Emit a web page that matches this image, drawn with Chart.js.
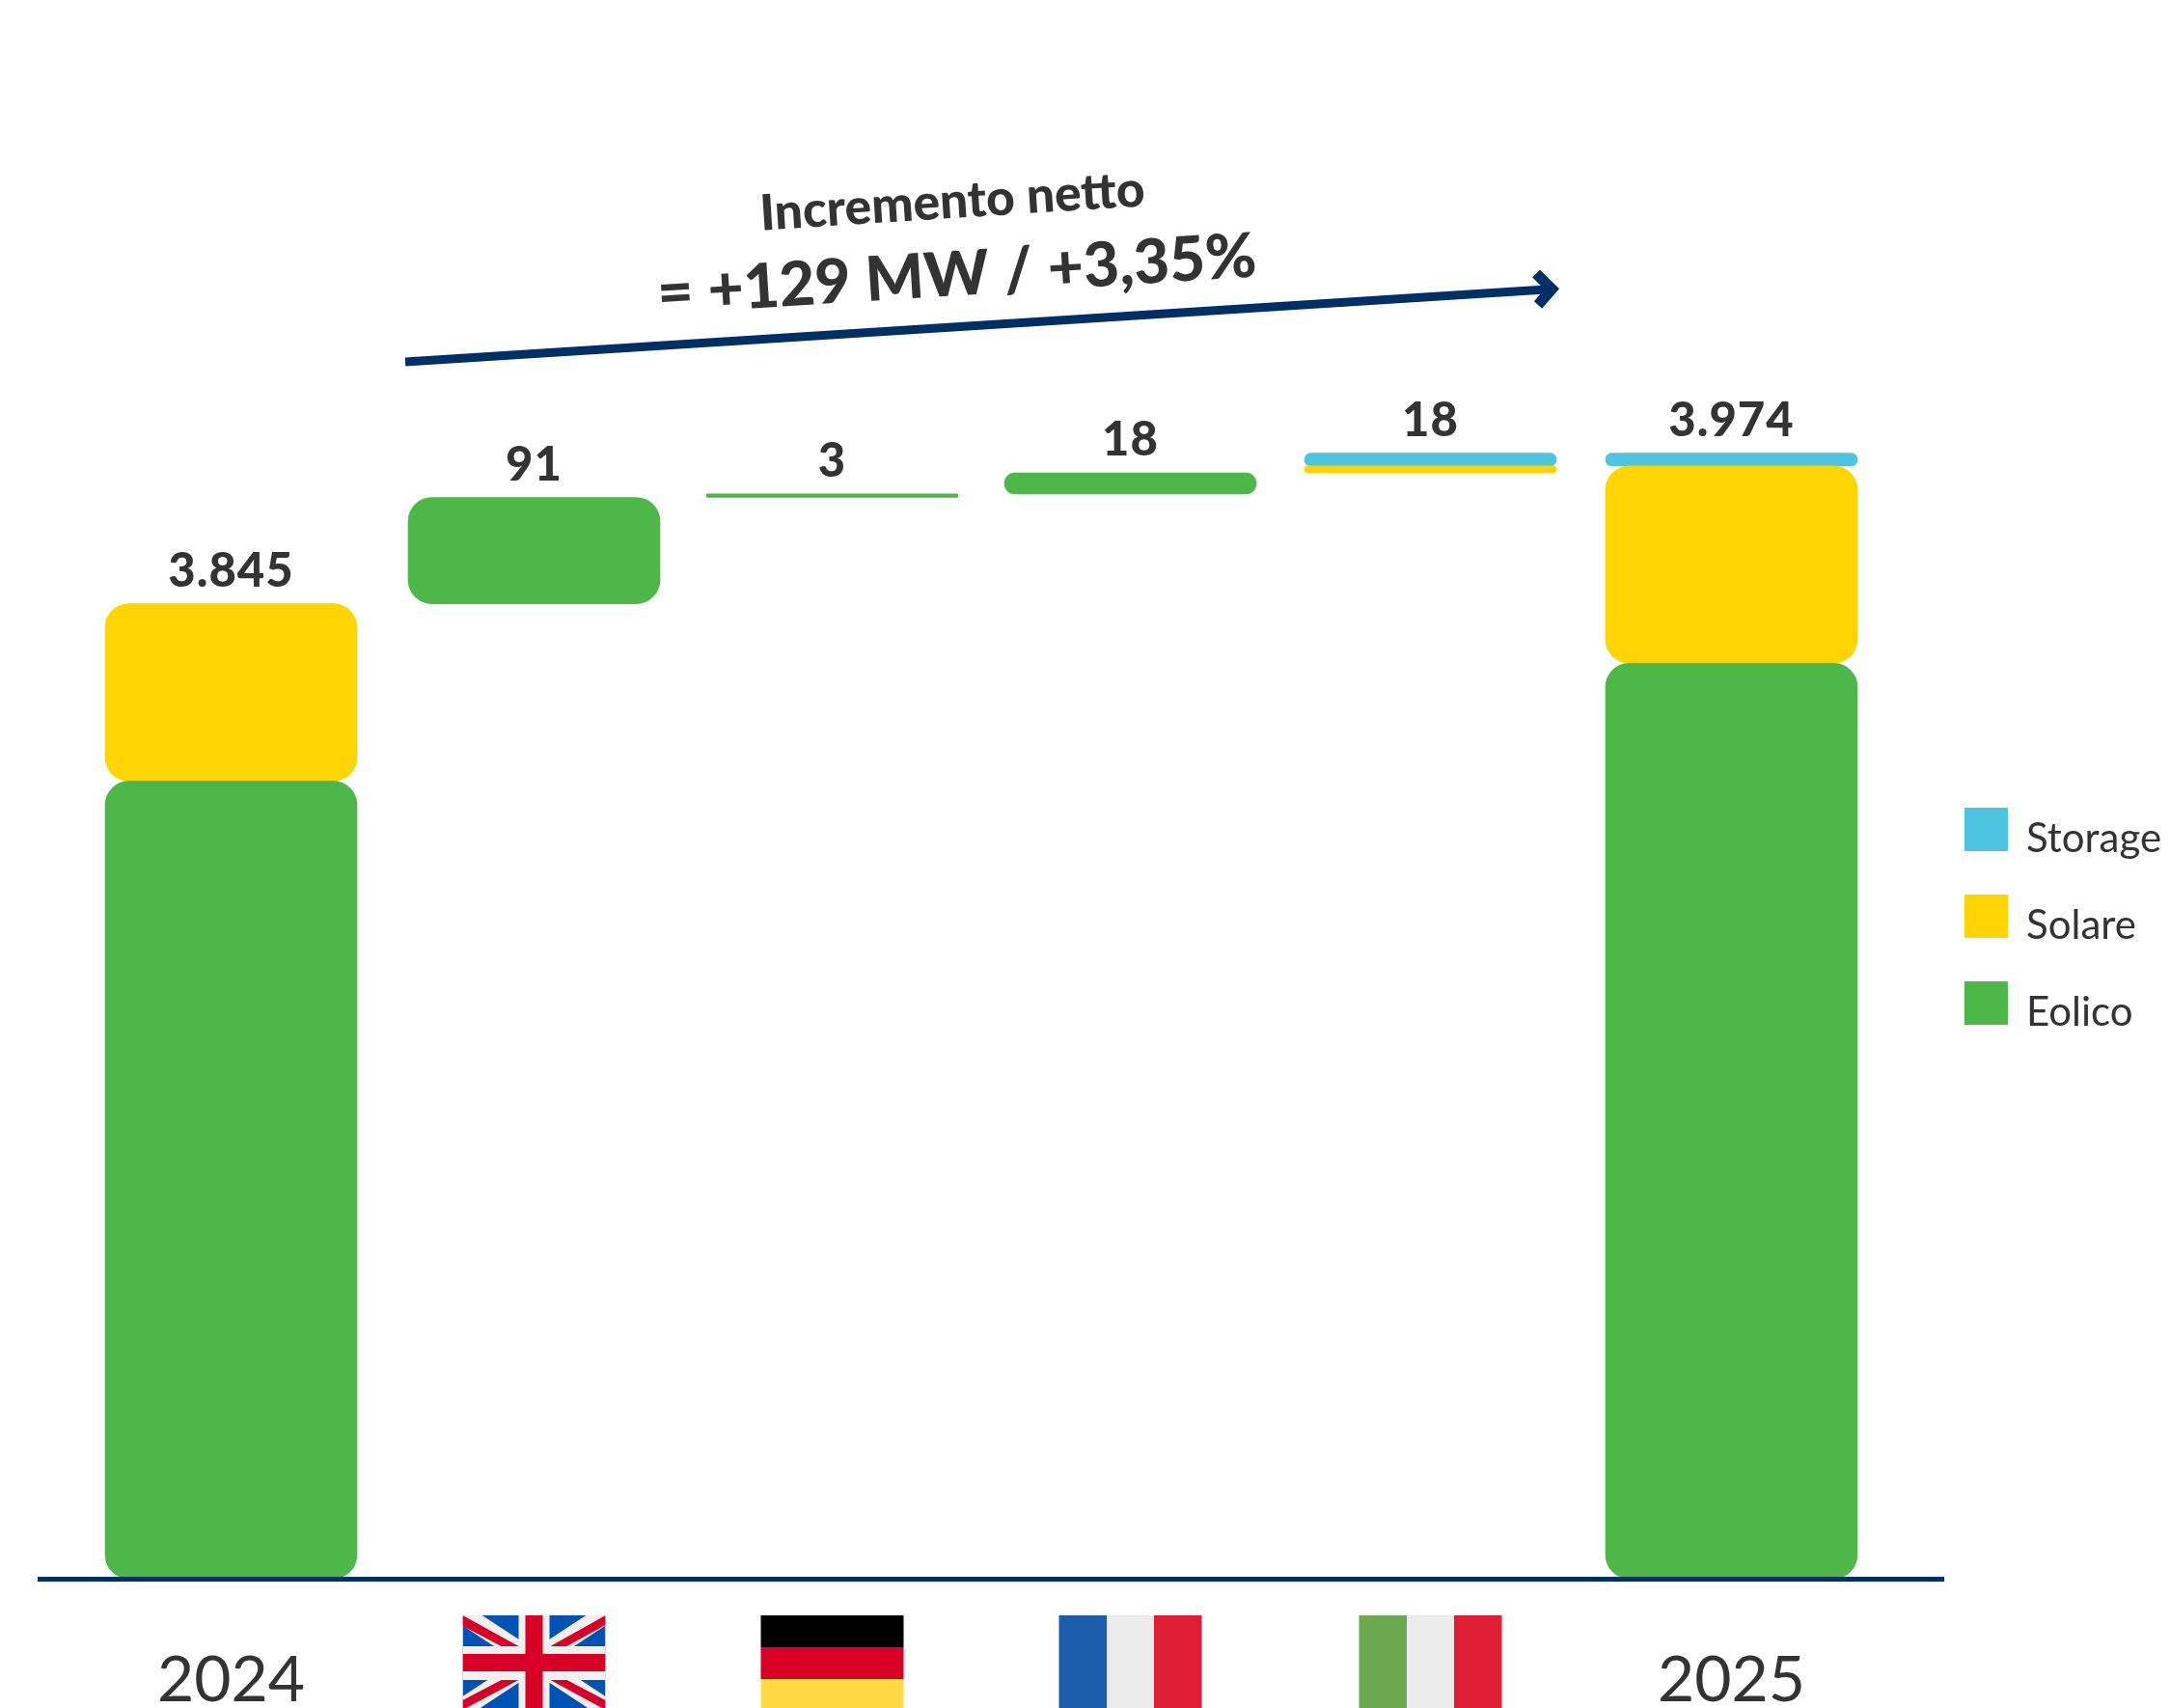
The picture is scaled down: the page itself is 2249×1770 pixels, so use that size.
<!DOCTYPE html>
<html lang="it">
<head>
<meta charset="utf-8">
<title>Incremento netto</title>
<style>html,body{margin:0;padding:0;background:#fff;overflow:hidden}canvas{display:block}</style>
<script src="https://cdn.jsdelivr.net/npm/chart.js@4"></script>
</head>
<body>
<canvas id="c" width="2249" height="1770"></canvas>
<script>
const categories = ['2024', 'Regno Unito', 'Germania', 'Francia', 'Italia', '2025'];
const axisFloor = 3009.5;
const axisCeil = 4332.5;
const eolico = [[axisFloor, 3693], [3845, 3936], [3936, 3939], [3939, 3957], null, [axisFloor, 3794]];
const solare = [[3693, 3845], null, null, null, [3957, 3963], [3794, 3963]];
const storage = [null, null, null, null, [3963, 3974], [3963, 3974]];
const totalLabels = ['3.845', '91', '3', '18', '18', '3.974'];
const seriesNames = ['Eolico', 'Solare', 'Storage'];
const columnNudge = [0, 3, 1, -1, -1, 0];
const COL = {eolico: '#4DB848', solare: '#FFD403', storage: '#4DC4E0', navy: '#002E66', ink: '#333333'};
const FONT = 'Lato, "Open Sans", sans-serif';

function rects(ctx, list) { list.forEach(([c, x, y, w, h]) => { ctx.fillStyle = c; ctx.fillRect(x, y, w, h); }); }
function poly(ctx, c, pts) {
  ctx.fillStyle = c; ctx.beginPath();
  pts.forEach(([x, y], i) => i ? ctx.lineTo(x, y) : ctx.moveTo(x, y));
  ctx.closePath(); ctx.fill();
}
const FLAG_W = 148, FLAG_H = 98, FLAG_TOP = 1674;
const flagDrawers = {
  'Regno Unito'(ctx, x, y) {
    const w = FLAG_W, h = FLAG_H, red = '#D80027';
    ctx.save();
    ctx.beginPath(); ctx.rect(x, y, w, h); ctx.clip();
    rects(ctx, [['#0052B4', x, y, w, h]]);
    ctx.strokeStyle = '#F0F0F0'; ctx.lineWidth = 20;
    ctx.beginPath();
    ctx.moveTo(x - 4, y - 4); ctx.lineTo(x + w, y + h - 2);
    ctx.moveTo(x + w + 4, y - 4); ctx.lineTo(x, y + h - 2);
    ctx.stroke();
    poly(ctx, red, [[x, y], [x + 58, y + 32], [x + 40, y + 32], [x, y + 11]]);
    poly(ctx, red, [[x + w, y], [x + w, y + 10], [x + 108, y + 32], [x + 91, y + 32]]);
    poly(ctx, red, [[x + 58, y + 67], [x + 40, y + 67], [x, y + 88], [x, y + h]]);
    poly(ctx, red, [[x + 91, y + 67], [x + 108, y + 67], [x + w, y + 88], [x + w, y + h]]);
    rects(ctx, [
      ['#F0F0F0', x, y + 32, w, 35], ['#F0F0F0', x + 58, y, 32, h],
      [red, x, y + 40, w, 18], [red, x + 65, y, 18, h]
    ]);
    ctx.restore();
  },
  'Germania'(ctx, x, y) {
    rects(ctx, [['#000000', x, y, FLAG_W, 33], ['#D80027', x, y + 33, FLAG_W, 33], ['#FFDA44', x, y + 66, FLAG_W, 33]]);
  },
  'Francia'(ctx, x, y) {
    rects(ctx, [['#1C5EAC', x, y, 49.5, FLAG_H], ['#ECECEC', x + 49.5, y, 49, FLAG_H], ['#DF1E35', x + 98.5, y, 49.5, FLAG_H]]);
  },
  'Italia'(ctx, x, y) {
    rects(ctx, [['#6BA850', x, y, 49.5, FLAG_H], ['#ECECEC', x + 49.5, y, 49, FLAG_H], ['#DF1E35', x + 98.5, y, 49.5, FLAG_H]]);
  }
};

const extras = {
  id: 'extras',
  afterDatasetsUpdate(chart) {
    chart.data.datasets.forEach((d, di) => {
      chart.getDatasetMeta(di).data.forEach((el, i) => { el.x += columnNudge[i]; });
    });
  },
  afterDatasetsDraw(chart) {
    const {ctx, scales: {x, y}} = chart;
    ctx.save();
    // axis line, wider than the plot area
    ctx.fillStyle = COL.navy;
    ctx.fillRect(x.left - 45, y.bottom - 2, x.right - x.left + 110, 5);

    // value labels over each column
    ctx.fillStyle = COL.ink;
    ctx.font = '900 49px ' + FONT;
    ctx.letterSpacing = '1px';
    ctx.textAlign = 'center';
    ctx.textBaseline = 'alphabetic';
    categories.forEach((c, i) => {
      let top = Infinity;
      [eolico, solare, storage].forEach(s => { if (s[i]) top = Math.min(top, y.getPixelForValue(s[i][1])); });
      ctx.fillText(totalLabels[i], x.getPixelForValue(i) + columnNudge[i], top - 18);
    });
    ctx.letterSpacing = '0px';

    // flags in place of the country tick labels
    categories.forEach((c, i) => {
      if (flagDrawers[c]) flagDrawers[c](ctx, x.getPixelForValue(i) + columnNudge[i] - FLAG_W / 2, FLAG_TOP);
    });

    // arrow
    const ax0 = 420, ay0 = 375, ax1 = 1606, ay1 = 299.8;
    ctx.strokeStyle = COL.navy; ctx.lineWidth = 9; ctx.lineCap = 'butt';
    ctx.beginPath(); ctx.moveTo(ax0, ay0); ctx.lineTo(ax1, ay1); ctx.stroke();
    ctx.lineJoin = 'miter'; ctx.lineWidth = 11;
    ctx.beginPath(); ctx.moveTo(1592, 283.5); ctx.lineTo(1608.5, 299.5); ctx.lineTo(1594, 316); ctx.stroke();

    // rotated annotation
    const ang = Math.atan2(ay1 - ay0, ax1 - ax0);
    ctx.fillStyle = COL.ink;
    ctx.textAlign = 'center';
    ctx.save(); ctx.translate(988, 226); ctx.rotate(ang);
    ctx.font = '900 51.5px ' + FONT; ctx.fillText('Incremento netto', 0, 0); ctx.restore();
    ctx.save(); ctx.translate(993, 306); ctx.rotate(ang);
    ctx.font = '900 64px ' + FONT; ctx.fillText('= +129 MW / +3,35%', 0, 0); ctx.restore();

    // legend
    const legendRows = [[2, 837], [1, 927], [0, 1017]];
    ctx.font = '42px ' + FONT; ctx.textAlign = 'left';
    legendRows.forEach(([d, top]) => {
      ctx.fillStyle = chart.data.datasets[d].backgroundColor;
      ctx.fillRect(2036, top, 45, 45);
      ctx.fillStyle = COL.ink;
      ctx.fillText(chart.data.datasets[d].label, 2100, top + 46);
    });
    ctx.restore();
  }
};

const bar = {borderRadius: 25, borderSkipped: false, barThickness: 261};
new Chart(document.getElementById('c'), {
  type: 'bar',
  data: {
    labels: categories,
    datasets: [
      {label: seriesNames[0], data: eolico, backgroundColor: COL.eolico, ...bar},
      {label: seriesNames[1], data: solare, backgroundColor: COL.solare, ...bar},
      {label: seriesNames[2], data: storage, backgroundColor: COL.storage, ...bar}
    ]
  },
  options: {
    responsive: false,
    animation: false,
    devicePixelRatio: 1,
    layout: {padding: {left: 84, right: 299, top: 36, bottom: 0}},
    plugins: {legend: {display: false}, tooltip: {enabled: false}},
    datasets: {bar: {grouped: false}},
    scales: {
      x: {
        grid: {display: false, drawBorder: false},
        border: {display: false},
        afterFit(s) { s.height = 134; },
        ticks: {
          autoSkip: false, maxRotation: 0, padding: 58, color: COL.ink,
          font: {family: FONT, size: 66, weight: 400},
          callback(v, i) { const l = categories[i]; return flagDrawers[l] ? '' : l; }
        }
      },
      y: {display: false, min: axisFloor, max: axisCeil, grid: {display: false}}
    }
  },
  plugins: [extras]
});
</script>
</body>
</html>
